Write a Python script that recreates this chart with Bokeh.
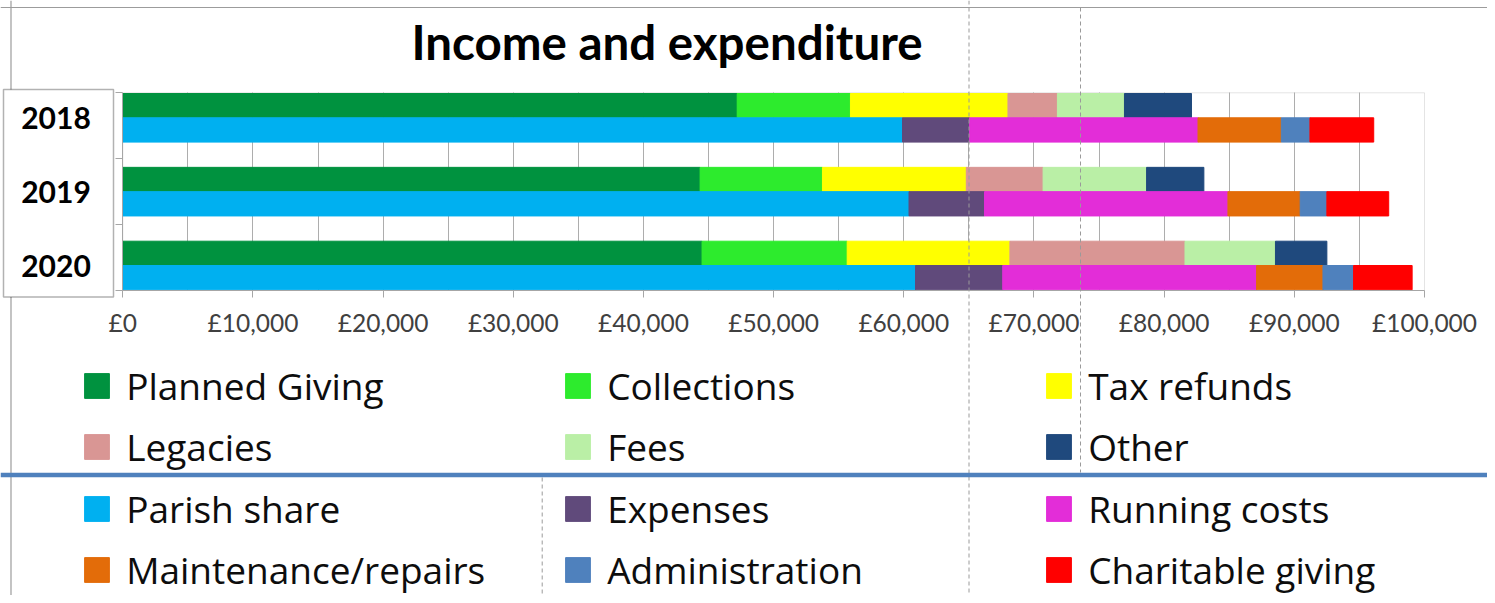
from bokeh.plotting import figure
from bokeh.models import (ColumnDataSource, Range1d, LinearAxis, FixedTicker, Grid,
                          BoxAnnotation, Span, Arrow, Label, Legend, LegendItem)
from bokeh.transform import dodge
from bokeh.embed import file_html
from bokeh.resources import INLINE

# ---------------- data ----------------
years = [2018, 2019, 2020]

income_names = ["Planned Giving", "Collections", "Tax refunds", "Legacies", "Fees", "Other"]
income_colors = ["#00923F", "#2DEB2D", "#FFFF00", "#D99694", "#BAEFA6", "#1F497D"]
planned_giving = [47200, 44350, 44500]
collections = [8700, 9400, 11150]
tax_refunds = [12100, 11050, 12500]
legacies = [3800, 5900, 13450]
fees = [5150, 7950, 6950]
other = [5150, 4400, 3950]

expend_names = ["Parish share", "Expenses", "Running costs", "Maintenance/repairs",
                "Administration", "Charitable giving"]
expend_colors = ["#00B0F0", "#604A7B", "#E32DD8", "#E36C09", "#4F81BD", "#FF0000"]
parish_share = [59900, 60400, 60900]
expenses = [5150, 5800, 6700]
running_costs = [17550, 18700, 19500]
maintenance = [6400, 5550, 5100]
administration = [2200, 2050, 2350]
charitable_giving = [4900, 4750, 4500]

tick_values = [0, 10000, 20000, 30000, 40000, 50000, 60000, 70000, 80000, 90000, 100000]
tick_labels = ["£0", "£10,000", "£20,000", "£30,000", "£40,000", "£50,000",
               "£60,000", "£70,000", "£80,000", "£90,000", "£100,000"]
grid_step = 5000

# ---------------- layout constants (picture pixels) ----------------
W, H = 1487, 595
X0_PX = 122.3                  # x of £0
PX_PER_UNIT = 1301.7 / 100000  # px per £
YR0_PX = 117.3                 # y of first year row centre
PX_PER_YEAR = 73.85
PLOT_TOP_PX, PLOT_BOTTOM_PX = 92.3, 290.0
BAR_H = 24.3 / PX_PER_YEAR
BAR_OFF = BAR_H / 2


def xd(px):
    return (px - X0_PX) / PX_PER_UNIT


def yd(py):
    return years[0] + (py - YR0_PX) / PX_PER_YEAR


plot_top = yd(PLOT_TOP_PX)
plot_bottom = yd(PLOT_BOTTOM_PX)
x_max = tick_values[-1]

inc_keys = ["planned_giving", "collections", "tax_refunds", "legacies", "fees", "other"]
exp_keys = ["parish_share", "expenses", "running_costs", "maintenance",
            "administration", "charitable_giving"]
src = ColumnDataSource(dict(
    year=years,
    planned_giving=planned_giving, collections=collections, tax_refunds=tax_refunds,
    legacies=legacies, fees=fees, other=other,
    parish_share=parish_share, expenses=expenses, running_costs=running_costs,
    maintenance=maintenance, administration=administration,
    charitable_giving=charitable_giving,
))

p = figure(width=W, height=H,
           x_range=Range1d(xd(0), xd(W)),
           y_range=Range1d(yd(H), yd(0)),
           x_axis_location=None, y_axis_location=None,
           output_backend="svg", toolbar_location=None,
           min_border=0, min_border_left=0, min_border_right=0,
           min_border_top=0, min_border_bottom=0)
p.outline_line_color = None
p.background_fill_color = "white"
p.border_fill_color = "white"
for g in p.grid:
    g.visible = False

GRAY = "#A6A6A6"

# outer frame lines
p.add_layout(Span(location=xd(10.5), dimension="height", line_color="#9C9C9C",
                  line_width=1.2, level="underlay"))
p.add_layout(Span(location=yd(7), dimension="width", line_color="#9C9C9C",
                  line_width=1.2, level="underlay"))

# year label box
p.add_layout(BoxAnnotation(left=xd(3), right=xd(113), top=yd(89), bottom=yd(296.5),
                           fill_color="white", fill_alpha=1.0, line_color="black",
                           line_width=1.5, level="underlay"))

# plot area border
p.add_layout(BoxAnnotation(left=0, right=x_max, top=plot_top, bottom=plot_bottom,
                           fill_color=None, fill_alpha=0, line_color=GRAY,
                           line_width=1, level="underlay"))

# vertical gridlines
p.add_layout(Grid(dimension=0, ticker=FixedTicker(ticks=list(range(grid_step, x_max, grid_step))),
                  bounds=(0, x_max), cross_bounds=(plot_top, plot_bottom),
                  grid_line_color="#ADADAD", grid_line_width=1, level="underlay"))

# bars
r_inc = p.hbar_stack(inc_keys, y=dodge("year", -BAR_OFF, range=p.y_range), height=BAR_H,
                     color=income_colors, source=src)
r_exp = p.hbar_stack(exp_keys, y=dodge("year", BAR_OFF, range=p.y_range), height=BAR_H,
                     color=expend_colors, source=src)

# axes
xaxis = LinearAxis(fixed_location=plot_bottom, bounds=(0, x_max),
                   ticker=FixedTicker(ticks=tick_values, minor_ticks=[]),
                   major_label_overrides={v: s for v, s in zip(tick_values, tick_labels)},
                   axis_line_color=GRAY, major_tick_line_color=GRAY,
                   major_tick_out=7, major_tick_in=0, minor_tick_out=0, minor_tick_in=0,
                   major_label_standoff=10,
                   major_label_text_font="Lato", major_label_text_font_size="24.5px",
                   major_label_text_color="#404040")
p.add_layout(xaxis, "below")

yaxis = LinearAxis(fixed_location=0, bounds=(plot_top, plot_bottom),
                   ticker=FixedTicker(ticks=years,
                                      minor_ticks=[plot_top, yd(158.3), yd(224.0), plot_bottom]),
                   major_label_overrides={y: str(y) for y in years},
                   axis_line_color=GRAY, major_tick_line_color=None,
                   minor_tick_line_color=GRAY,
                   major_tick_out=0, major_tick_in=0, minor_tick_out=7, minor_tick_in=0,
                   major_label_standoff=25,
                   major_label_text_font="Lato", major_label_text_font_size="30px",
                   major_label_text_font_style="bold", major_label_text_color="black")
p.add_layout(yaxis, "left")

# title
p.add_layout(Label(x=xd(666.5), y=yd(40.5), text="Income and expenditure",
                   text_align="center", text_baseline="alphabetic",
                   text_font="Lato", text_font_style="bold", text_font_size="47.5px",
                   text_color="black"))

# guide lines
DASH = "4 3"
p.add_layout(Span(location=xd(968.5), dimension="height", line_color="#9A9A9A",
                  line_width=1, line_dash=DASH))
p.add_layout(Arrow(end=None, x_start=xd(1080), y_start=yd(7), x_end=xd(1080), y_end=yd(472),
                   line_color="#9A9A9A", line_width=1, line_dash=DASH))
p.add_layout(Arrow(end=None, x_start=xd(541.7), y_start=yd(477), x_end=xd(541.7), y_end=yd(H),
                   line_color="#9A9A9A", line_width=1, line_dash=DASH))
p.add_layout(Span(location=yd(474.5), dimension="width", line_color="#4F81BD",
                  line_width=4.5))

# legends
GLYPH = 31
LABEL_H = 50
STANDOFF = 14
COL_PITCH = 481
MARKER_LEFT = 84.3


def make_legend(names, rends, centre_px, row_pitch):
    spacing = int(round(row_pitch - LABEL_H))
    top_px = centre_px - LABEL_H / 2
    bottom_px = top_px + 2 * LABEL_H + spacing
    leg = Legend(items=[LegendItem(label=n, renderers=[r]) for n, r in zip(names, rends)],
                 orientation="horizontal", ncols=3,
                 location=(MARKER_LEFT - GLYPH * 0.1, H - bottom_px),
                 glyph_width=GLYPH, glyph_height=GLYPH, label_standoff=STANDOFF,
                 label_width=COL_PITCH - GLYPH - STANDOFF - spacing, label_height=LABEL_H,
                 spacing=spacing, padding=0, margin=0,
                 border_line_color=None, background_fill_alpha=0,
                 label_text_font="Open Sans", label_text_font_size="37px",
                 label_text_color="#0D0D0D")
    return leg


p.add_layout(make_legend(income_names, r_inc, 386.5, 59.5))
p.add_layout(make_legend(expend_names, r_exp, 509.5, 59.5))

open("out.html", "w", encoding="utf-8").write(file_html(p, INLINE))
